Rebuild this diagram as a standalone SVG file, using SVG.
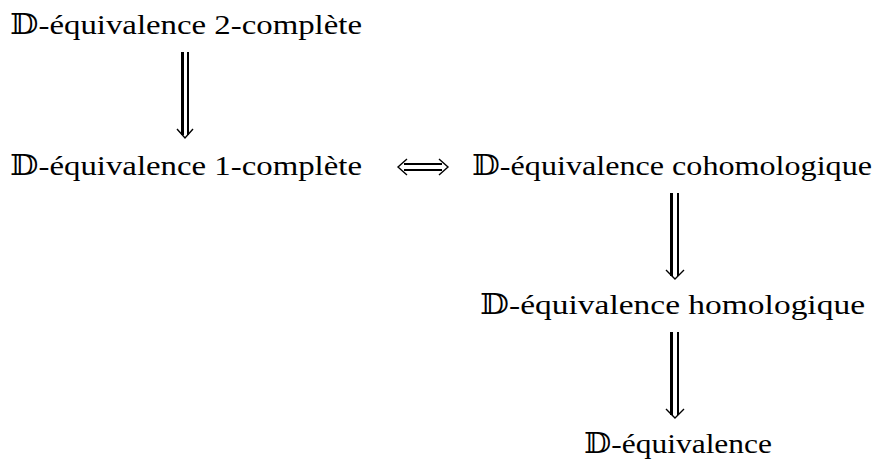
<svg xmlns="http://www.w3.org/2000/svg" width="883" height="461" viewBox="0 0 883 461">
<style>
text{font-family:"Liberation Serif","DejaVu Serif",serif;font-size:27px;fill:#000}
.thick{stroke:#000;stroke-width:3;fill:none}
.thin{stroke:#000;stroke-width:2;fill:none}
.head{stroke:#000;stroke-width:1.4;fill:none}
</style>
<rect width="883" height="461" fill="#fff"/>
<g id="n1"><text x="10" y="34" textLength="352" lengthAdjust="spacingAndGlyphs">𝔻-équivalence 2-complète</text></g>
<g id="n2"><text x="10" y="175" textLength="352" lengthAdjust="spacingAndGlyphs">𝔻-équivalence 1-complète</text></g>
<g id="n3"><text x="472" y="175" textLength="400" lengthAdjust="spacingAndGlyphs">𝔻-équivalence cohomologique</text></g>
<g id="n4"><text x="480" y="314" textLength="385" lengthAdjust="spacingAndGlyphs">𝔻-équivalence homologique</text></g>
<g id="n5"><text x="584" y="453" textLength="188" lengthAdjust="spacingAndGlyphs">𝔻-équivalence</text></g>
<g id="connectors">
<g id="e1">
<line class="thick" x1="182.5" y1="52" x2="182.5" y2="135"/>
<line class="thin" x1="188" y1="52" x2="188" y2="135"/>
<path class="head" d="M177,129 L185,138 L193,129"/>
</g>
<g id="e2">
<line class="thick" x1="671.5" y1="193" x2="671.5" y2="276"/>
<line class="thin" x1="678" y1="193" x2="678" y2="276"/>
<path class="head" d="M666,270 L675,279 L684,270"/>
</g>
<g id="e3">
<line class="thick" x1="671.5" y1="332" x2="671.5" y2="415"/>
<line class="thin" x1="678" y1="332" x2="678" y2="415"/>
<path class="head" d="M666,409 L675,418 L684,409"/>
</g>
<g id="e4">
<line class="thin" x1="404" y1="164" x2="442" y2="164" stroke-width="1.6"/>
<line class="thin" x1="404" y1="170" x2="442" y2="170" stroke-width="1.6"/>
<path class="head" d="M407,159 L398,167 L407,175"/>
<path class="head" d="M439,159 L448,167 L439,175"/>
</g>
</g>
</svg>
